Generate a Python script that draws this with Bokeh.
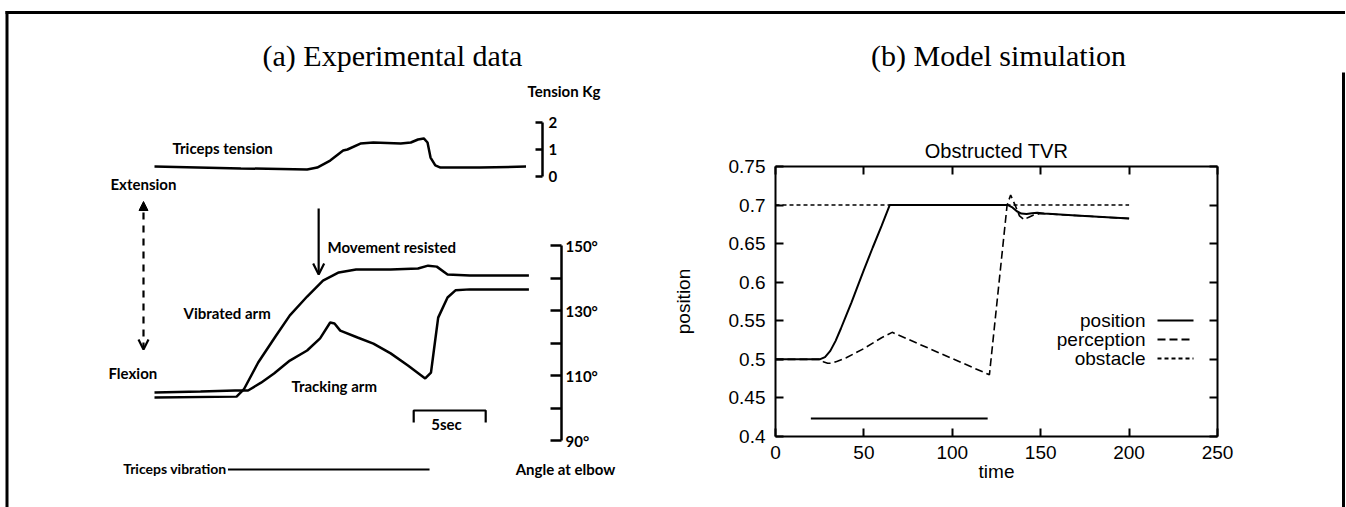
import math
from bokeh.plotting import figure
from bokeh.models import (Range1d, LinearAxis, FixedTicker, PrintfTickFormatter, Label,
                          BoxAnnotation, Arrow, NormalHead, OpenHead)
from bokeh.embed import file_html
from bokeh.resources import INLINE

# ======================= DATA =======================
# (b) Model simulation  (time units, position units)
sim_pos_time = [0, 25, 28, 31, 34, 37, 40, 43, 46, 50, 55, 60, 64.6, 131.5, 134, 136.5, 139,
                142, 145, 148, 152, 170, 200]
sim_position = [0.5, 0.5, 0.503, 0.511, 0.524, 0.54, 0.557, 0.574, 0.592, 0.616, 0.645, 0.673,
                0.7, 0.7, 0.697, 0.692, 0.689, 0.6885, 0.6895, 0.690, 0.689, 0.6865, 0.6825]
sim_perc_time = [0, 25, 27, 29.5, 32, 35, 40, 45, 50, 55, 60, 66, 80, 100, 121, 131, 133,
                 135.5, 138, 140.6, 143, 146, 150, 170, 200]
sim_perception = [0.5, 0.5, 0.497, 0.495, 0.495, 0.4975, 0.502, 0.508, 0.514, 0.521, 0.528,
                  0.535, 0.521, 0.501, 0.48, 0.70, 0.713, 0.70, 0.686, 0.681, 0.684, 0.687,
                  0.689, 0.6865, 0.6825]
sim_obst_time = [0, 200]
sim_obstacle = [0.7, 0.7]
sim_vibration = [20, 120]          # vibration on / off
sim_x_ticks = [0, 50, 100, 150, 200, 250]
sim_y_ticks = [0.4, 0.45, 0.5, 0.55, 0.6, 0.65, 0.7, 0.75]
sim_y_tick_labels = ["0.4", "0.45", "0.5", "0.55", "0.6", "0.65", "0.7", "0.75"]
legend_labels = ["position", "perception", "obstacle"]

# (a) Experimental data  (seconds, degrees, kg)
exp_vib_time = [0.0, 5.7, 6.2, 7.2, 8.4, 9.4, 10.6, 11.7, 12.8, 14.0, 16.4, 18.3, 19.0, 19.6,
                20.35, 21.9, 26.0]
exp_vibrated = [103.2, 103.5, 105.7, 114.0, 122.0, 128.5, 134.3, 139.2, 141.7, 142.6, 142.6,
                142.9, 143.8, 143.5, 141.1, 140.8, 140.8]
exp_trk_time = [0.0, 3.2, 5.6, 6.5, 7.4, 8.3, 9.4, 10.6, 11.5, 12.2, 12.5, 12.9, 14.1, 15.2,
                16.4, 17.6, 18.8, 19.2, 19.4, 19.7, 20.35, 20.9, 21.9, 26.0]
exp_tracking = [104.8, 105.1, 105.4, 105.4, 107.8, 110.6, 114.6, 117.7, 121.4, 126.3, 126.0,
                123.8, 121.7, 119.8, 116.8, 113.1, 109.1, 110.9, 117.7, 127.8, 134.0, 136.2,
                136.5, 136.5]
exp_ten_time = [0.0, 6.0, 10.6, 11.3, 12.2, 13.1, 13.4, 14.3, 15.2, 17.1, 17.8, 18.3, 18.7,
                18.96, 19.17, 19.5, 19.86, 22.6, 25.8]
exp_tension = [0.37, 0.30, 0.26, 0.33, 0.59, 0.96, 1.0, 1.22, 1.26, 1.22, 1.26, 1.37, 1.41,
               1.26, 0.70, 0.41, 0.33, 0.33, 0.37]
exp_vibration = [5.1, 19.1]        # triceps vibration on / off (s)
exp_resisted_t = 11.4              # movement resisted (s)
exp_scale_start = 18.0             # start of the time scale bar (s)
exp_scale_len = 5                  # "5sec"
exp_angle_ticks = [90, 110, 130, 150]
exp_angle_minor = [100, 120, 140]
exp_tension_ticks = [0, 1, 2]

# ======================= LAYOUT (page pixels) =======================
W, H = 1346, 507
OX, OY = 0, 0
B_L, B_R, B_T, B_B = 775, 1217, 166, 436           # panel (b) plot box


def bx(px):
    return sim_x_ticks[0] + (px - B_L) * (sim_x_ticks[-1] - sim_x_ticks[0]) / (B_R - B_L)


def by(py):
    return sim_y_ticks[0] + (B_B - py) * (sim_y_ticks[-1] - sim_y_ticks[0]) / (B_B - B_T)


A_T0, A_SPX = 154, 14.4          # time 0 at x=154, 14.4 px per second
A_150, A_DPX = 245, 3.25         # 150 deg at y=245, 3.25 px per degree
A_KG0, A_KPX = 176, 27           # 0 kg at y=176, 27 px per kg


def at(px):
    return (px - A_T0) / A_SPX


def aa(py):
    return 150 - (py - A_150) / A_DPX


def ak(py):
    return (A_KG0 - py) / A_KPX


SANS = "Liberation Sans"
SERIF = "Liberation Serif"
HUM = "Lato"

p = figure(width=W, height=H,
           x_range=Range1d(bx(OX), bx(OX + W)), y_range=Range1d(by(OY + H), by(OY)),
           x_axis_type=None, y_axis_type=None, toolbar_location=None,
           output_backend="svg", min_border=0, title=None)
p.outline_line_color = None
p.background_fill_color = "white"
p.border_fill_color = "white"
p.extra_x_ranges = {"t": Range1d(at(OX), at(OX + W))}
p.extra_y_ranges = {"ang": Range1d(aa(OY + H), aa(OY)), "ten": Range1d(ak(OY + H), ak(OY))}

# ---------------- outer border ----------------
for l, r, t, b in [(5, 1344.5, 10.5, 13.5), (5, 8, 10.5, OY + H), (1341.5, 1344.5, 72, OY + H)]:
    p.add_layout(BoxAnnotation(left=bx(l), right=bx(r), top=by(t), bottom=by(b),
                               fill_color="black", fill_alpha=1.0, line_color=None))


def txt(text, px, py, font, size, align="left", style="normal", angle=0.0):
    p.add_layout(Label(x=bx(px), y=by(py), text=text, text_font=font,
                       text_font_size=f"{size}px", text_font_style=style,
                       text_align=align, text_baseline="middle", angle=angle,
                       text_color="black"))


# ---------------- panel (b) axes (gnuplot box) ----------------
def style_axis(ax, labels=True):
    ax.axis_line_width = 2
    ax.axis_line_color = "black"
    ax.major_tick_in = 8
    ax.major_tick_out = 0
    ax.major_tick_line_width = 2
    ax.minor_tick_line_color = None
    ax.major_label_text_font = SANS
    ax.major_label_text_font_size = "19px"
    ax.major_label_text_color = "black" if labels else None


yt = FixedTicker(ticks=sim_y_ticks)
xt = FixedTicker(ticks=sim_x_ticks)
ax = LinearAxis(fixed_location=sim_x_ticks[0], bounds=(sim_y_ticks[0], sim_y_ticks[-1]),
                ticker=yt, major_label_overrides=dict(zip(sim_y_ticks, sim_y_tick_labels)),
                major_label_standoff=10)
style_axis(ax)
p.add_layout(ax, "left")
ax = LinearAxis(fixed_location=sim_y_ticks[0], bounds=(sim_x_ticks[0], sim_x_ticks[-1]),
                ticker=xt, major_label_standoff=9)
style_axis(ax)
p.add_layout(ax, "below")
ax = LinearAxis(fixed_location=sim_x_ticks[-1], bounds=(sim_y_ticks[0], sim_y_ticks[-1]), ticker=yt)
style_axis(ax, labels=False)
p.add_layout(ax, "right")
ax = LinearAxis(fixed_location=sim_y_ticks[-1], bounds=(sim_x_ticks[0], sim_x_ticks[-1]), ticker=xt)
style_axis(ax, labels=False)
p.add_layout(ax, "above")

# ---------------- panel (b) lines ----------------
p.line(sim_obst_time, sim_obstacle, line_color="black", line_width=1.5, line_dash="4 3")
p.line(sim_perc_time, sim_perception, line_color="black", line_width=1.6, line_dash="8 4")
p.line(sim_pos_time, sim_position, line_color="black", line_width=2)
SIM_VIB_LEVEL = by(418)
p.line(sim_vibration, [SIM_VIB_LEVEL, SIM_VIB_LEVEL], line_color="black", line_width=1.8)

# legend (text right-aligned, sample to the right)
dashes = ["solid", "8 4", "4 3"]
for i, (lab, dash) in enumerate(zip(legend_labels, dashes)):
    yy = 320 + 19 * i
    txt(lab, 1145, yy, SANS, 19, align="right")
    p.line([bx(1157), bx(1193)], [by(yy), by(yy)], line_color="black", line_width=1.8,
           line_dash=dash)

txt("(b) Model simulation", 998, 55, SERIF, 30, align="center")
txt("Obstructed TVR", 996, 150, SANS, 20, align="center")
txt("position", 683, 301, SANS, 19, align="center", angle=math.pi / 2)
txt("time", 996, 471, SANS, 19, align="center")

# ---------------- panel (a) axes ----------------
ax = LinearAxis(x_range_name="t", y_range_name="ang", fixed_location=at(561),
                bounds=(exp_angle_ticks[0], exp_angle_ticks[-1]),
                ticker=FixedTicker(ticks=exp_angle_ticks, minor_ticks=exp_angle_minor),
                formatter=PrintfTickFormatter(format="%d°"),
                major_tick_in=11, major_tick_out=0, minor_tick_in=11, minor_tick_out=0,
                major_label_standoff=4)
ax.axis_line_width = 2.5
ax.major_tick_line_width = 2.5
ax.minor_tick_line_width = 2.5
ax.minor_tick_line_color = "black"
ax.major_label_text_font = HUM
ax.major_label_text_font_style = "bold"
ax.major_label_text_font_size = "15px"
ax.major_label_text_color = "black"
p.add_layout(ax, "right")

ax = LinearAxis(x_range_name="t", y_range_name="ten", fixed_location=at(542),
                bounds=(exp_tension_ticks[0], exp_tension_ticks[-1]),
                ticker=FixedTicker(ticks=exp_tension_ticks),
                major_tick_in=7, major_tick_out=0, major_label_standoff=6)
ax.axis_line_width = 2.5
ax.major_tick_line_width = 2.5
ax.minor_tick_line_color = None
ax.major_label_text_font = HUM
ax.major_label_text_font_style = "bold"
ax.major_label_text_font_size = "15px"
ax.major_label_text_color = "black"
p.add_layout(ax, "right")

# ---------------- panel (a) traces ----------------
p.line(exp_vib_time, exp_vibrated, x_range_name="t", y_range_name="ang",
       line_color="black", line_width=2.5)
p.line(exp_trk_time, exp_tracking, x_range_name="t", y_range_name="ang",
       line_color="black", line_width=2.5)
p.line(exp_ten_time, exp_tension, x_range_name="t", y_range_name="ten",
       line_color="black", line_width=2.5)
VIB_LEVEL = aa(469)
p.line(exp_vibration, [VIB_LEVEL, VIB_LEVEL], x_range_name="t", y_range_name="ang",
       line_color="black", line_width=2)
# 5 s scale bar
s0, s1 = exp_scale_start, exp_scale_start + exp_scale_len
p.line([s0, s0, s1, s1], [aa(422), aa(410), aa(410), aa(422)], x_range_name="t",
       y_range_name="ang", line_color="black", line_width=2.2)

# arrows
p.add_layout(Arrow(x_start=exp_resisted_t, y_start=aa(208), x_end=exp_resisted_t, y_end=aa(274),
                   x_range_name="t", y_range_name="ang", line_width=2.2, line_color="black",
                   end=OpenHead(size=11, line_width=2.2, line_color="black")))
p.add_layout(Arrow(x_start=at(143), y_start=aa(349), x_end=at(143), y_end=aa(201),
                   x_range_name="t", y_range_name="ang", line_width=2.2, line_color="black",
                   line_dash="7 6",
                   start=OpenHead(size=10, line_width=2.2, line_color="black"),
                   end=NormalHead(size=9, fill_color="black", line_color="black")))

# panel (a) texts
txt("(a) Experimental data", 392, 55, SERIF, 30, align="center")
txt("Tension Kg", 527, 90, HUM, 15, style="bold")
txt("Triceps  tension", 172, 147, HUM, 15, style="bold")
txt("Extension", 110, 183, HUM, 15, style="bold")
txt("Movement  resisted", 327, 246, HUM, 15, style="bold")
txt("Vibrated  arm", 183, 312, HUM, 15, style="bold")
txt("Flexion", 108, 372, HUM, 15, style="bold")
txt("Tracking  arm", 291, 385, HUM, 15, style="bold")
txt("5sec", 446, 423, HUM, 15, align="center", style="bold")
txt("Triceps vibration", 226, 468, HUM, 14, align="right", style="bold")
txt("Angle at elbow", 565, 468, HUM, 15, align="center", style="bold")

open("out.html", "w").write(file_html(p, INLINE))
